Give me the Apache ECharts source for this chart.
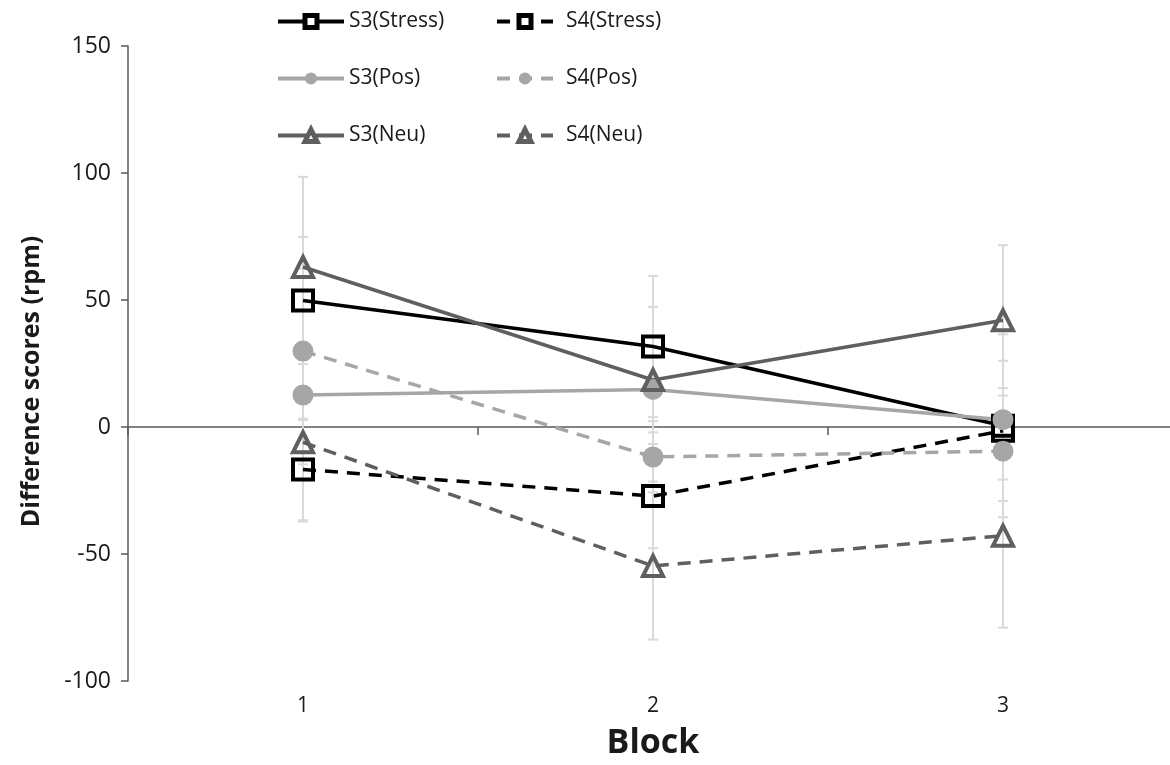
<!DOCTYPE html>
<html>
<head>
<meta charset="utf-8">
<script src="https://cdn.jsdelivr.net/npm/echarts@6/dist/echarts.min.js"></script>
<style>
  html, body { margin: 0; padding: 0; background: #fff; overflow: hidden; }
  /* the plot area runs slightly past the right edge of the window */
  #chart { width: 1180px; height: 765px; }
</style>
</head>
<body>
<div id="chart"></div>
<script>
// Block labels on the category axis
const categories = ['1', '2', '3'];
const yTicks = { min: -100, max: 150, interval: 50 };

// Mean difference scores (rpm) per block
const s3Stress = [49.8, 31.7, 0.5];
const s4Stress = [-16.7, -27.2, -1.5];
const s3Pos = [12.6, 14.8, 2.9];
const s4Pos = [29.9, -11.8, -9.5];
const s3Neu = [63.0, 18.5, 42.0];
const s4Neu = [-6.0, -54.7, -42.8];

// Standard errors (half length of each error bar)
const s3StressErr = [25.0, 27.8, 36.0];
const s4StressErr = [20.0, 20.5, 27.6];
const s3PosErr = [49.8, 12.5, 12.4];
const s4PosErr = [3.5, 9.7, 11.2];
const s3NeuErr = [35.5, 28.8, 29.6];
const s4NeuErr = [8.7, 29.0, 36.2];

const FONT = "'Open Sans', 'Noto Sans', sans-serif";
const BLACK = '#000000';
const LIGHT = '#a6a6a6';
const DARK = '#5f5f5f';
const ERR = '#d9d9d9';
const TEXT = '#1a1a1a';

const seriesDefs = [
  { name: 'S3(Stress)', values: s3Stress, err: s3StressErr, color: BLACK, symbol: 'rect', dashed: false },
  { name: 'S4(Stress)', values: s4Stress, err: s4StressErr, color: BLACK, symbol: 'rect', dashed: true },
  { name: 'S3(Pos)', values: s3Pos, err: s3PosErr, color: LIGHT, symbol: 'circle', dashed: false },
  { name: 'S4(Pos)', values: s4Pos, err: s4PosErr, color: LIGHT, symbol: 'circle', dashed: true },
  { name: 'S3(Neu)', values: s3Neu, err: s3NeuErr, color: DARK, symbol: 'triangle', dashed: false },
  { name: 'S4(Neu)', values: s4Neu, err: s4NeuErr, color: DARK, symbol: 'triangle', dashed: true }
];

// Error bar rows: [category index, mean, half length]
const errorRows = [];
seriesDefs.forEach(function (d) {
  d.values.forEach(function (v, i) { errorRows.push([i, v, d.err[i]]); });
});

function renderErrorBar(params, api) {
  const x = api.value(0);
  const mean = api.value(1);
  const se = api.value(2);
  const top = api.coord([x, mean + se]);
  const bottom = api.coord([x, mean - se]);
  const half = 5;
  const style = { stroke: ERR, lineWidth: 2, fill: null };
  return {
    type: 'group',
    children: [
      { type: 'line', shape: { x1: top[0], y1: top[1], x2: bottom[0], y2: bottom[1] }, style: style },
      { type: 'line', shape: { x1: top[0] - half, y1: top[1], x2: top[0] + half, y2: top[1] }, style: style },
      { type: 'line', shape: { x1: bottom[0] - half, y1: bottom[1], x2: bottom[0] + half, y2: bottom[1] }, style: style }
    ]
  };
}

function markerStyle(d) {
  return d.symbol === 'circle'
    ? { color: d.color, borderWidth: 0 }
    : { color: 'rgba(255,255,255,0)', borderColor: d.color, borderWidth: 4 };
}

const lineSeries = seriesDefs.map(function (d) {
  return {
    name: d.name,
    type: 'line',
    xAxisIndex: 0,
    data: d.values,
    symbol: d.symbol,
    symbolSize: d.symbol === 'circle' ? 21 : 20,
    showAllSymbol: true,
    z: 3,
    lineStyle: {
      color: d.color,
      width: 3.5,
      type: d.dashed ? [13, 9] : 'solid',
      cap: 'butt'
    },
    itemStyle: markerStyle(d),
    emphasis: { disabled: true },
    animation: false
  };
});

function legendItems(names) {
  return names.map(function (n) {
    const d = seriesDefs.find(function (s) { return s.name === n; });
    const st = d.symbol === 'circle'
      ? { color: d.color, borderWidth: 0 }
      : { color: '#ffffff', borderColor: d.color, borderWidth: 5 };
    return { name: n, itemStyle: st };
  });
}

const legendCommon = {
  orient: 'vertical',
  top: 6,
  itemHeight: 15,
  itemGap: 36,
  lineStyle: { width: 4 },
  textStyle: { fontFamily: FONT, fontSize: 21, color: TEXT },
  selectedMode: false
};

const option = {
  backgroundColor: '#ffffff',
  animation: false,
  grid: { left: 128, right: 2, top: 46, height: 639, containLabel: false },
  legend: [
    Object.assign({}, legendCommon, {
      left: 271, itemWidth: 66,
      data: legendItems(['S3(Stress)', 'S3(Pos)', 'S3(Neu)'])
    }),
    Object.assign({}, legendCommon, {
      left: 490, itemWidth: 56,
      textStyle: Object.assign({}, legendCommon.textStyle, { padding: [0, 0, 0, 8] }),
      data: legendItems(['S4(Stress)', 'S4(Pos)', 'S4(Neu)'])
    })
  ],
  xAxis: [
    {
      type: 'category',
      data: categories,
      position: 'bottom',
      axisLine: { show: false, onZero: false },
      axisTick: { show: false },
      axisLabel: { fontFamily: FONT, fontSize: 21, color: TEXT, margin: 15 },
      name: 'Block',
      nameLocation: 'middle',
      nameGap: 45,
      nameTextStyle: { fontFamily: FONT, fontSize: 34, fontWeight: 'bold', color: TEXT }
    },
    {
      type: 'category',
      data: categories,
      position: 'bottom',
      axisLine: { show: true, onZero: true, lineStyle: { color: '#5a5a5a', width: 1.5 } },
      axisTick: { show: true, length: 8, lineStyle: { color: '#5a5a5a', width: 1.5 } },
      axisLabel: { show: false }
    }
  ],
  yAxis: {
    type: 'value',
    min: yTicks.min,
    max: yTicks.max,
    interval: yTicks.interval,
    axisLine: { show: true, lineStyle: { color: '#5a5a5a', width: 1.5 } },
    axisTick: { show: true, length: 7, lineStyle: { color: '#5a5a5a', width: 1.5 } },
    splitLine: { show: false },
    axisLabel: { fontFamily: FONT, fontSize: 23, color: TEXT, margin: 17 },
    name: 'Difference scores (rpm)',
    nameLocation: 'middle',
    nameGap: 84,
    nameTextStyle: { fontFamily: FONT, fontSize: 25, fontWeight: 'bold', color: TEXT, padding: [0, 36, 0, 0] }
  },
  series: [
    {
      type: 'custom',
      name: 'error',
      xAxisIndex: 0,
      data: errorRows,
      renderItem: renderErrorBar,
      z: 1,
      silent: true,
      encode: { x: 0, y: [1, 2] }
    }
  ].concat(lineSeries)
};

const chart = echarts.init(document.getElementById('chart'), null, { renderer: 'canvas' });
chart.setOption(option);
</script>
</body>
</html>
